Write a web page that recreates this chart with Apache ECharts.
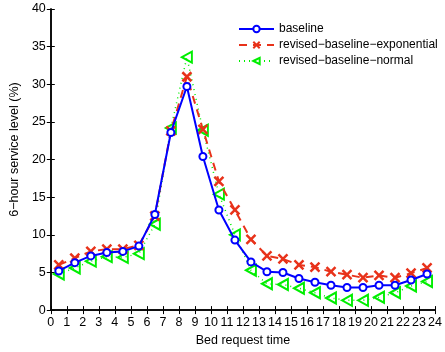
<!DOCTYPE html>
<html>
<head>
<meta charset="utf-8">
<script src="https://cdn.jsdelivr.net/npm/echarts@6/dist/echarts.min.js"></script>
<style>
  html, body { margin: 0; padding: 0; background: #ffffff; }
  #chart { width: 445px; height: 352px; }
</style>
</head>
<body>
<div id="chart"></div>
<script>
// bed request time (hour midpoints)
var hours = [0.5, 1.5, 2.5, 3.5, 4.5, 5.5, 6.5, 7.5, 8.5, 9.5, 10.5, 11.5,
  12.5, 13.5, 14.5, 15.5, 16.5, 17.5, 18.5, 19.5, 20.5, 21.5, 22.5, 23.5]
var baseline = [5.2, 6.3, 7.2, 7.65, 7.8, 8.5, 12.7, 23.6, 29.7, 20.4, 13.3, 9.3,
  6.4, 5.1, 5.0, 4.2, 3.7, 3.3, 3.0, 3.0, 3.3, 3.3, 4.0, 4.8]
var revisedExp = [6.0, 6.9, 7.8, 8.1, 8.1, 8.6, 12.5, 23.8, 31.0, 24.0, 17.1, 13.3,
  9.4, 7.2, 6.8, 6.0, 5.7, 5.1, 4.7, 4.3, 4.6, 4.3, 4.9, 5.6]
var revisedNormal = [4.8, 5.6, 6.5, 7.1, 7.0, 7.5, 11.4, 24.2, 33.6, 23.9, 15.4, 10.0,
  5.3, 3.5, 3.4, 2.9, 2.3, 1.6, 1.3, 1.3, 1.7, 2.3, 3.2, 3.8]
var xTicks = [0, 24, 1]
var yTicks = [0, 40, 5]

function pairs(ys) {
  return hours.map(function (h, i) { return [h, ys[i]] })
}

var myChart = echarts.init(document.getElementById('chart'))
var font = 'Liberation Sans, Arial, sans-serif'
var axisLine = { show: true, lineStyle: { color: '#000', width: 1.5 } }
var tickIn = { show: true, inside: true, length: 4, lineStyle: { color: '#000', width: 1 } }

var option = {
  animation: false,
  grid: { left: 47, right: 8, top: 9, bottom: 36 },
  legend: {
    left: 233,
    top: 18,
    orient: 'vertical',
    itemWidth: 35,
    itemHeight: 8,
    itemGap: 4,
    textStyle: { fontFamily: font, fontSize: 12, color: '#000' },
    data: ['baseline', 'revised\u2212baseline\u2212exponential', 'revised\u2212baseline\u2212normal']
  },
  xAxis: [
    {
      type: 'value',
      min: xTicks[0], max: xTicks[1], interval: xTicks[2],
      name: 'Bed request time',
      nameLocation: 'middle',
      nameGap: 21,
      nameTextStyle: { fontFamily: font, fontSize: 12.5, color: '#000' },
      axisLine: axisLine,
      axisTick: tickIn,
      axisLabel: { fontFamily: font, fontSize: 12.5, color: '#000', margin: 6 },
      splitLine: { show: false }
    },
    {
      type: 'value', position: 'top',
      min: xTicks[0], max: xTicks[1], interval: xTicks[2],
      axisLine: axisLine, axisTick: tickIn,
      axisLabel: { show: false }, splitLine: { show: false }
    }
  ],
  yAxis: [
    {
      type: 'value',
      min: yTicks[0], max: yTicks[1], interval: yTicks[2],
      name: '6\u2212hour service level (%)',
      nameLocation: 'middle',
      nameGap: 21,
      nameTextStyle: { fontFamily: font, fontSize: 12.5, color: '#000', padding: [0, 0, 0, 20] },
      axisLine: axisLine,
      axisTick: tickIn,
      axisLabel: { fontFamily: font, fontSize: 12.5, color: '#000', margin: 5 },
      splitLine: { show: false }
    },
    {
      type: 'value', position: 'right',
      min: yTicks[0], max: yTicks[1], interval: yTicks[2],
      axisLine: axisLine, axisTick: tickIn,
      axisLabel: { show: false }, splitLine: { show: false }
    }
  ],
  series: [
    {
      name: 'revised\u2212baseline\u2212normal',
      type: 'line',
      data: pairs(revisedNormal),
      symbol: 'path://M0,5 L10,0 L10,10 Z',
      symbolSize: [10, 11],
      itemStyle: { color: 'rgba(0,0,0,0)', borderColor: '#00ee00', borderWidth: 2 },
      lineStyle: { color: '#00ee00', width: 1.5, type: [1, 4] },
      z: 2
    },
    {
      name: 'revised\u2212baseline\u2212exponential',
      type: 'line',
      data: pairs(revisedExp),
      symbol: 'path://M0,0 L10,10 M10,0 L0,10',
      symbolSize: 9,
      itemStyle: { color: '#e8321a', borderColor: '#e8321a', borderWidth: 2.5 },
      lineStyle: { color: '#e8321a', width: 2, type: [8, 6] },
      z: 3
    },
    {
      name: 'baseline',
      type: 'line',
      data: pairs(baseline),
      symbol: 'emptyCircle',
      symbolSize: 7,
      itemStyle: { color: '#0000ff', borderColor: '#0000ff', borderWidth: 1.5 },
      lineStyle: { color: '#0000ff', width: 2 },
      z: 4
    }
  ]
}
myChart.setOption(option)
</script>
</body>
</html>
